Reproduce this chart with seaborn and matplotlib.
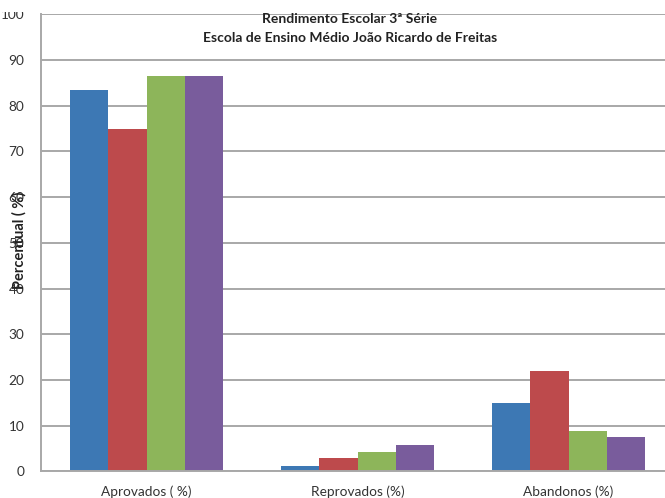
import matplotlib
matplotlib.use("Agg")
import matplotlib.pyplot as plt
import seaborn as sns
import pandas as pd
from matplotlib.patches import Rectangle

# Indicators and the four yearly series
categories = ["Aprovados ( %)", "Reprovados (%)", "Abandonos (%)"]
series_names = ["Série 1", "Série 2", "Série 3", "Série 4"]
serie_1 = [83.5, 1.2, 15.0]
serie_2 = [74.9, 2.9, 21.9]
serie_3 = [86.6, 4.3, 8.8]
serie_4 = [86.6, 5.7, 7.5]
y_ticks = [0, 10, 20, 30, 40, 50, 60, 70, 80, 90, 100]
colors = ["#3D78B4", "#BD4A4C", "#8DB55A", "#795C9C"]

rows = []
for name, vals in zip(series_names, [serie_1, serie_2, serie_3, serie_4]):
    for cat, v in zip(categories, vals):
        rows.append({"Indicador": cat, "Série": name, "Percentual": v})
df = pd.DataFrame(rows)

sns.set_theme(style="white")
plt.rcParams["font.family"] = ["Lato", "DejaVu Sans"]

fig = plt.figure(figsize=(6.65, 4.98), dpi=100)
ax = fig.add_axes([41 / 665, 1 - 471.4 / 498, (674 - 41) / 665, (471.4 - 14.3) / 498])

sns.barplot(data=df, x="Indicador", y="Percentual", hue="Série",
            order=categories, hue_order=series_names, palette=colors,
            width=0.725, gap=0, saturation=1, linewidth=0, legend=False, ax=ax)

ax.set_xlim(-0.5, 2.5)
ax.set_ylim(0, 100)
ax.set_yticks(y_ticks)
ax.set_yticklabels([str(t) for t in y_ticks])
ax.yaxis.grid(True, color="#A8A8A8", linewidth=1.4)
ax.set_axisbelow(True)
ax.tick_params(axis="both", length=0, labelsize=9.8, colors="#333333")
ax.tick_params(axis="y", pad=12)
ax.tick_params(axis="x", pad=10)
for side in ["top", "right"]:
    ax.spines[side].set_visible(False)
for side in ["left", "bottom"]:
    ax.spines[side].set_color("#A8A8A8")
    ax.spines[side].set_linewidth(1.4)
ax.set_xlabel("")
ax.set_ylabel("")

fig.text(19 / 665, 1 - 240 / 498, "Percentual ( %)", rotation=90, ha="center",
         va="center", fontsize=10.5, fontweight="bold", color="#222222")

fig.text(350 / 665, 1 - 19 / 498, "Rendimento Escolar 3ª Série", ha="center",
         va="center", fontsize=10, fontweight="bold", color="#222222")
fig.text(350 / 665, 1 - 38 / 498, "Escola de Ensino Médio João Ricardo de Freitas",
         ha="center", va="center", fontsize=10, fontweight="bold", color="#222222")

# white strip masking the upper margin
fig.patches.append(Rectangle((0, 1 - 12 / 498), 1, 12 / 498, transform=fig.transFigure,
                             facecolor="white", edgecolor="none", zorder=10))

fig.savefig("out.png", dpi=100)
